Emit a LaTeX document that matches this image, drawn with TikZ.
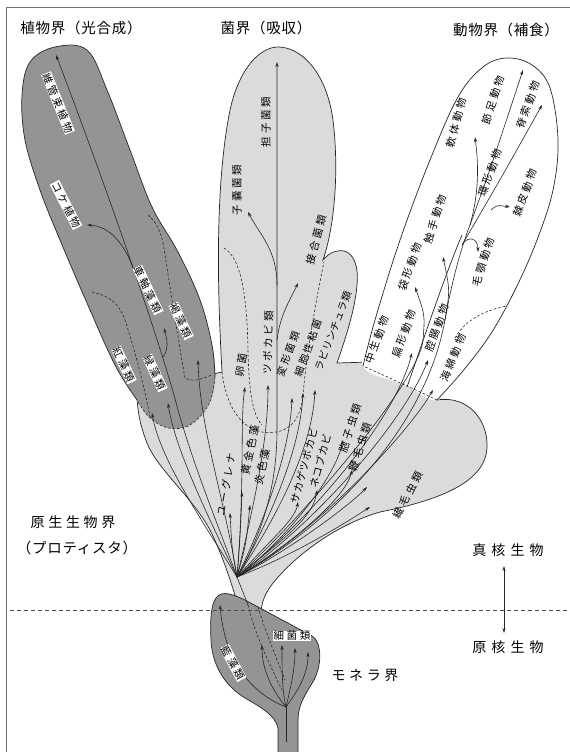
\documentclass[tikz,border=0pt]{standalone}
\usepackage{fontspec}
\newfontfamily\jp{Noto Sans CJK JP}
\newfontfamily\jpl[LetterSpace=26]{Noto Sans CJK JP}
\newfontfamily\jpk[LetterSpace=6]{Noto Sans CJK JP}
\newfontfamily\jpt[LetterSpace=5]{Noto Sans CJK JP}
\newfontfamily\jpw[LetterSpace=26]{Noto Sans CJK JP}
\newfontfamily\jpx[LetterSpace=36]{Noto Sans CJK JP}
\usetikzlibrary{arrows.meta}
\begin{document}
\begin{tikzpicture}[x=1pt,y=-1pt,
  lightfill/.style={fill=black!14},
  darkfill/.style={fill=black!42},
  outl/.style={draw=black!85,line width=0.7pt},
  dsh/.style={draw=black!85,line width=0.6pt,dash pattern=on 2.5pt off 2pt},
  arr/.style={draw=black!85,line width=0.6pt,-{Stealth[length=5pt,width=3.2pt]}},
  lab/.style={font=\jpl\fontsize{10.5}{11}\selectfont,inner sep=0.4pt},
  slab/.style={font=\jpl\fontsize{10}{11}\selectfont,inner sep=0.3pt},
  klab/.style={font=\jpk\fontsize{10.5}{11}\selectfont,inner sep=0.4pt},
  sklab/.style={font=\jpk\fontsize{10}{11}\selectfont,inner sep=0.3pt},
  wlab/.style={lab,fill=white},
  ttl/.style={font=\jpt\fontsize{14.5}{15}\selectfont,inner sep=0pt},
  wttl/.style={font=\jpw\fontsize{14}{15}\selectfont,inner sep=0pt},
  xttl/.style={font=\jpx\fontsize{14}{15}\selectfont,inner sep=0pt},
]
\useasboundingbox (0,0) rectangle (570,752);
\fill[white] (0,0) rectangle (570,752);
\draw[black!55,line width=0.8pt] (6,752) -- (6,7) -- (570,7);

% protist + fungus + slime mould region
\path[lightfill,outl] (137,392) -- (222,372)
 .. controls (218,300) and (214,190) .. (230,110)
 .. controls (240,65) and (262,47) .. (278,47)
 .. controls (300,47) and (326,70) .. (333,120)
 .. controls (339,170) and (335,225) .. (323,260)
 .. controls (330,252) and (336,250) .. (344,251)
 .. controls (353,253) and (359,265) .. (357,285)
 .. controls (355,310) and (345,340) .. (337,363)
 -- (370,362) -- (420,330) -- (437,400)
 .. controls (468,395) and (488,420) .. (487,447)
 .. controls (486,482) and (440,500) .. (380,512)
 .. controls (335,525) and (298,555) .. (280,575)
 .. controls (268,588) and (262,598) .. (261,612)
 -- (240,612)
 .. controls (234,592) and (225,560) .. (210,530)
 .. controls (193,498) and (158,470) .. (147,443)
 .. controls (140,425) and (137,410) .. (137,392) -- cycle;

% animal lobe
\path[fill=white] plot[smooth cycle,tension=0.6] coordinates {(363,366) (375,320) (400,240) (430,160) (458,97) (483,67) (507,58) (532,65) (550,88) (558,140) (553,190) (537,240) (515,290) (490,335) (462,372) (437,400) (405,385)};
\draw[outl] plot[smooth,tension=0.6] coordinates {(363,366) (375,320) (400,240) (430,160) (458,97) (483,67) (507,58) (532,65) (550,88) (558,140) (553,190) (537,240) (515,290) (490,335) (462,372) (437,400)};
\draw[dsh] plot[smooth,tension=0.6] coordinates {(437,400) (405,385) (363,366)};
\draw[outl] (407,387) .. controls (425,335) and (445,275) .. (462,235);
\draw[dsh] (455,338) .. controls (465,320) and (485,310) .. (507,306);

% plant lobe
\path[darkfill] plot[smooth cycle,tension=0.6] coordinates {(55,47) (87,50) (107,90) (130,150) (152,207) (178,252) (200,300) (212,345) (215,377) (209,404) (190,425) (168,428) (149,417) (137,400) (115,365) (87,303) (60,240) (40,190) (25,140) (22,95) (30,62)};
\draw[outl] plot[smooth,tension=0.6] coordinates {(137,400) (115,365) (87,303) (60,240) (40,190) (25,140) (22,95) (30,62) (55,47) (87,50) (107,90) (130,150) (152,207) (178,252) (200,300) (212,345) (215,377)};
\draw[dsh] plot[smooth,tension=0.6] coordinates {(215,377) (209,404) (190,425) (168,428) (149,417) (137,400)};
\draw[dsh] (92,292) .. controls (105,295) and (118,300) .. (125,320) .. controls (135,350) and (145,390) .. (150,417);
\draw[dsh] (148,215) .. controls (160,225) and (163,240) .. (165,255) .. controls (172,300) and (180,350) .. (185,378) .. controls (195,383) and (203,378) .. (212,375);

% fungus dashed
\draw[dsh] (222,372) .. controls (226,405) and (240,428) .. (262,432) .. controls (285,435) and (300,425) .. (303,395) .. controls (306,360) and (314,310) .. (324,262);
\draw[dsh] (224,248) .. controls (242,258) and (247,300) .. (248,350) .. controls (249,395) and (253,415) .. (262,425);

% Monera
\fill[darkfill] (216,598) .. controls (222,590) and (232,594) .. (245,600)
 -- (312,636) .. controls (322,642) and (322,665) .. (314,680)
 .. controls (305,695) and (298,705) .. (298,720) -- (298,752) -- (278,752) -- (278,728)
 .. controls (275,715) and (262,708) .. (245,698)
 .. controls (225,686) and (212,665) .. (211,640)
 .. controls (210,620) and (211,605) .. (216,598) -- cycle;
\draw[outl] (298,752) -- (298,720) .. controls (298,705) and (305,695) .. (314,680)
 .. controls (322,665) and (322,642) .. (312,636) -- (245,600)
 .. controls (232,594) and (222,590) .. (216,598)
 .. controls (211,605) and (210,620) .. (211,640)
 .. controls (212,665) and (225,686) .. (245,698)
 .. controls (262,708) and (275,715) .. (278,728) -- (278,752);

\coordinate (O) at (237,577);
\coordinate (M) at (286,742);
\coordinate (M1) at (286,707);

% plant arrows
\draw[arr] (O) .. controls (220,530) and (195,470) .. (178,410) .. controls (160,340) and (100,170) .. (56,55);
\draw[arr] (133,268) .. controls (125,245) and (110,226) .. (87,225);
\draw[arr] (163,357) .. controls (170,348) and (166,336) .. (164,328);
\draw[arr] (O) .. controls (210,520) and (175,450) .. (168,403);
\draw[arr] (O) .. controls (205,525) and (160,460) .. (152,413);
\draw[arr] (O) .. controls (225,500) and (200,430) .. (198,360);

% protist arrows
\draw[arr] (O) .. controls (232,550) .. (230,513);
\draw[arr] (O) .. controls (240,540) .. (242,492);
\draw[arr] (O) .. controls (246,545) .. (250,505);
\draw[arr] (O) .. controls (270,540) and (295,520) .. (298,502);
\draw[arr] (O) .. controls (275,545) and (313,520) .. (317,490);
\draw[arr] (O) .. controls (280,545) and (335,480) .. (343,440);
\draw[arr] (O) .. controls (285,548) and (345,500) .. (352,470);
\draw[arr] (O) .. controls (290,550) and (350,505) .. (367,487);
\draw[arr] (O) .. controls (295,555) and (350,520) .. (370,507);

% fungus arrows
\draw[arr] (O) .. controls (245,480) and (240,420) .. (245,387);
\draw[arr] (O) .. controls (255,500) and (268,440) .. (268,385);
\draw[arr] (O) .. controls (265,530) and (277,480) .. (277,430) -- (277,62);
\draw[arr] (277,285) .. controls (277,250) and (260,235) .. (248,212);
\draw[arr] (277,340) .. controls (280,315) and (290,300) .. (298,283);
\draw[arr] (O) .. controls (265,520) and (290,450) .. (292,398);
\draw[arr] (O) .. controls (270,520) and (300,450) .. (303,393);
\draw[arr] (O) .. controls (275,520) and (312,450) .. (315,390);

% animal arrows
\draw[arr] (O) .. controls (320,530) and (410,430) .. (433,390);
\draw[arr] (O) .. controls (315,525) and (405,420) .. (428,360);
\draw[arr] (O) .. controls (310,520) and (395,420) .. (412,353);
\draw[arr] (O) .. controls (305,515) and (420,380) .. (423,340) .. controls (425,315) .. (415,287);
\draw[arr] (O) .. controls (330,525) and (425,430) .. (445,320) .. controls (450,290) .. (443,257);
\draw[outl,line width=0.6pt] (445,320) .. controls (452,280) and (462,245) .. (470,225);
\draw[arr] (470,225) .. controls (480,190) and (478,160) .. (475,137);
\draw[arr] (470,225) .. controls (490,170) .. (523,70);
\draw[arr] (462,245) .. controls (500,180) .. (542,105);
\draw[arr] (491,210) .. controls (497,205) .. (510,207);
\draw[arr] (462,245) .. controls (468,235) and (478,238) .. (478,252);

% monera arrows
\draw[outl,line width=0.6pt] (M) -- (M1);
\draw[arr] (M1) .. controls (255,695) and (225,665) .. (220,605);
\draw[arr] (M1) .. controls (272,690) and (262,670) .. (262,645);
\draw[arr] (M1) .. controls (282,690) and (282,670) .. (282,645);
\draw[arr] (M1) .. controls (290,690) and (295,670) .. (295,648);
\draw[arr] (M1) .. controls (298,690) and (308,675) .. (308,652);
\draw[outl,line width=0.6pt] (O) -- (248,605);
\draw[dsh] (248,605) .. controls (255,635) and (270,665) .. (282,690);
\draw[dsh] (258,607) .. controls (265,630) and (275,655) .. (285,680);

% separator
\draw[black!70,line width=0.6pt,dash pattern=on 4pt off 3pt] (10,610) -- (570,610);

% labels
\node[ttl] (t1) at (81,28) {植物界（光合成）};
\node[ttl] (t2) at (266,28) {菌界（吸収）};
\node[ttl] (t3) at (506,30) {動物界（補食）};

\node[wlab,rotate=-68] (p1) at (58,103) {維管束植物};
\node[wlab,rotate=-63] (p2) at (66,205) {コケ植物};
\node[wlab,rotate=-65] (p3) at (148,290) {車軸藻類};
\node[wlab,rotate=-65] (p4) at (181,321) {褐藻類};
\node[wlab,rotate=-65] (p5) at (124,365) {紅藻類};
\node[wlab,rotate=-65] (p6) at (155,373) {緑藻類};

\node[lab,rotate=90] (f1) at (266,122) {担子菌類};
\node[lab,rotate=90] (f2) at (237,190) {子嚢菌類};
\node[lab,rotate=75] (f3) at (316,240) {接合菌類};
\node[lab,rotate=88] (f4) at (268,343) {ツボカビ類};
\node[lab,rotate=80] (f5) at (241,365) {卵菌};
\node[slab,rotate=70] (f6) at (288,354) {変形菌類};
\node[slab,rotate=70] (f7) at (308,348) {細胞性粘菌};
\node[sklab,rotate=69] (f8) at (333,331) {ラビリンチュラ類};

\node[lab,rotate=80] (q1) at (226,485) {ユーグレナ};
\node[lab,rotate=78] (q2) at (250,450) {黄金色藻};
\node[lab,rotate=78] (q3) at (262,467) {炎色藻};
\node[klab,rotate=75] (q4) at (304,466) {サカゲツボカビ};
\node[klab,rotate=75] (q5) at (320,461) {ネコブカビ};
\node[lab,rotate=72] (q6) at (350,428) {胞子虫類};
\node[lab,rotate=72] (q7) at (360,447) {鞭毛虫類};
\node[lab,rotate=62] (q8) at (408,495) {繊毛虫類};

\node[lab,rotate=75] (a1) at (456,123) {軟体動物};
\node[lab,rotate=72] (a2) at (493,100) {節足動物};
\node[lab,rotate=70] (a3) at (528,105) {脊索動物};
\node[lab,rotate=70] (a4) at (490,173) {環形動物};
\node[lab,rotate=70] (a5) at (525,193) {棘皮動物};
\node[lab,rotate=72] (a6) at (435,219) {触手動物};
\node[lab,rotate=72] (a7) at (483,262) {毛顎動物};
\node[lab,rotate=70] (a8) at (410,267) {袋形動物};
\node[lab,rotate=70] (a9) at (377,340) {中生動物};
\node[lab,rotate=70] (a10) at (404,334) {扁形動物};
\node[lab,rotate=70] (a11) at (437,328) {腔腸動物};
\node[lab,rotate=68] (a12) at (453,358) {海綿動物};

\node[wttl] (k1) at (73,522) {原生生物界};
\node[ttl] (k2) at (77,548) {（プロティスタ）};
\node[xttl] (ek) at (508,550) {真核生物};
\node[xttl] (pk) at (508,647) {原核生物};
\node[wttl] (mn) at (365,675) {モネラ界};
\node[wlab] (b1) at (292,636) {細菌類};
\node[wlab,rotate=-62] (b2) at (233,663) {藍藻類};
\draw[black!85,line width=0.7pt,{Stealth[length=5pt,width=3pt]}-{Stealth[length=5pt,width=3pt]}] (504,566) -- (504,633);
\end{tikzpicture}
\end{document}
